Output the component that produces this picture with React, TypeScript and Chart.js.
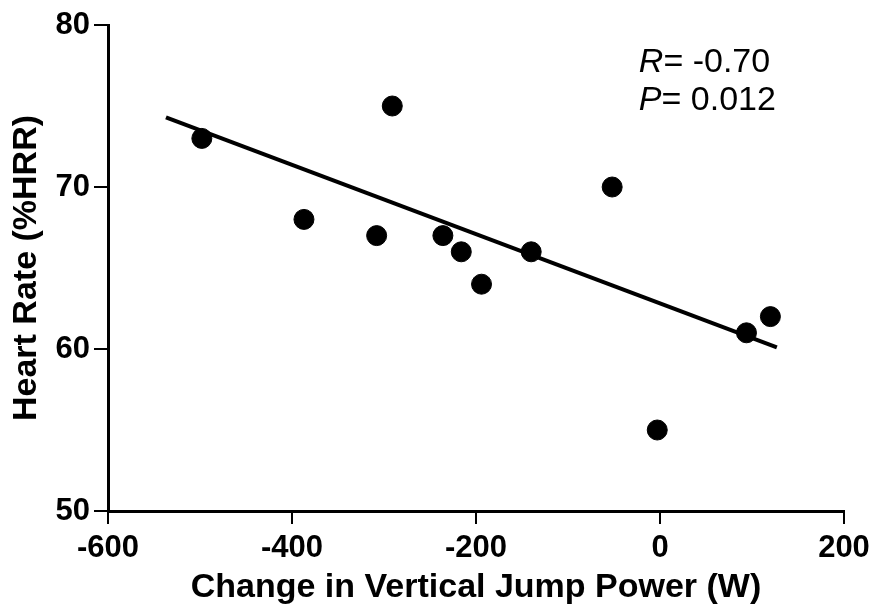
import React, { useEffect, useRef } from "react";
import { Chart, registerables } from "chart.js";

Chart.register(...registerables);

// Measured data points (Change in Vertical Jump Power (W), Heart Rate (%HRR))
const powerChange = [-498, -387, -291, -308, -236, -216, -194, -140, -52, -3, 94, 120];
const heartRate = [73, 68, 75, 67, 67, 66, 64, 66, 70, 55, 61, 62];

// Regression line end points
const fitX = [-537, 127];
const fitY = [74.3, 60.1];

// Axis settings
const xTicks = [-600, -400, -200, 0, 200];
const yTicks = [50, 60, 70, 80];
const xTitle = "Change in Vertical Jump Power (W)";
const yTitle = "Heart Rate (%HRR)";

// Statistics annotation
const statLetters = ["R", "P"];
const statValues = ["= -0.70", "= 0.012"];
const statAnchorX = -23;
const statAnchorY = [77.1, 74.75];

const FONT = '"Liberation Sans", Arial, Helvetica, sans-serif';

const statsPlugin = {
  id: "stats",
  afterDraw(chart: any) {
    const { ctx, scales } = chart;
    ctx.save();
    ctx.fillStyle = "#000";
    ctx.textBaseline = "alphabetic";
    ctx.textAlign = "left";
    statLetters.forEach((letter, i) => {
      const x = scales.x.getPixelForValue(statAnchorX);
      const y = scales.y.getPixelForValue(statAnchorY[i]);
      ctx.font = `italic 34px ${FONT}`;
      ctx.fillText(letter, x, y);
      const w = ctx.measureText(letter).width;
      ctx.font = `34px ${FONT}`;
      ctx.fillText(statValues[i], x + w, y);
    });
    ctx.restore();
  },
};

export default function App() {
  const ref = useRef<HTMLCanvasElement | null>(null);

  useEffect(() => {
    if (!ref.current) return;
    const points = powerChange.map((x, i) => ({ x, y: heartRate[i] }));
    const fit = fitX.map((x, i) => ({ x, y: fitY[i] }));
    const chart = new Chart(ref.current, {
      type: "scatter",
      data: {
        datasets: [
          {
            label: "fit",
            data: fit,
            showLine: true,
            borderColor: "#000",
            borderWidth: 4,
            pointRadius: 0,
            fill: false,
          },
          {
            label: "data",
            data: points,
            backgroundColor: "#000",
            borderColor: "#000",
            pointRadius: 10,
            pointHoverRadius: 10,
          },
        ],
      },
      options: {
        responsive: false,
        animation: false,
        events: [],
        layout: { padding: { left: 0, top: 25, right: 28, bottom: 0 } },
        plugins: {
          legend: { display: false },
          tooltip: { enabled: false },
        },
        scales: {
          x: {
            type: "linear",
            min: -600,
            max: 200,
            afterBuildTicks: (scale: any) => {
              scale.ticks = xTicks.map((v) => ({ value: v }));
            },
            afterFit: (scale: any) => {
              scale.height = 102;
              scale.paddingLeft = 0;
              scale.paddingRight = 0;
            },
            border: { display: true, color: "#000", width: 3 },
            grid: {
              drawOnChartArea: false,
              drawTicks: true,
              tickLength: 13,
              color: "#000",
              lineWidth: 2,
            },
            ticks: {
              color: "#000",
              padding: 6,
              maxRotation: 0,
              font: { family: FONT, size: 31, weight: "bold" },
            },
            title: {
              display: true,
              text: xTitle,
              color: "#000",
              padding: { top: 0, bottom: 5 },
              font: { family: FONT, size: 34, weight: "bold" },
            },
          },
          y: {
            type: "linear",
            min: 50,
            max: 80,
            afterBuildTicks: (scale: any) => {
              scale.ticks = yTicks.map((v) => ({ value: v }));
            },
            afterFit: (scale: any) => {
              scale.width = 108;
              scale.paddingTop = 0;
              scale.paddingBottom = 0;
            },
            border: { display: true, color: "#000", width: 3 },
            grid: {
              drawOnChartArea: false,
              drawTicks: true,
              tickLength: 14,
              color: "#000",
              lineWidth: 2,
            },
            ticks: {
              color: "#000",
              padding: 4,
              font: { family: FONT, size: 31, weight: "bold" },
            },
            title: {
              display: true,
              text: yTitle,
              color: "#000",
              padding: { top: 6, bottom: 0 },
              font: { family: FONT, size: 34, weight: "bold" },
            },
          },
        },
      },
      plugins: [statsPlugin],
    });
    return () => chart.destroy();
  }, []);

  return (
    <div style={{ position: "absolute", left: 0, top: 0, width: 872, height: 613, background: "#fff" }}>
      <canvas ref={ref} width={872} height={613} style={{ display: "block" }} />
    </div>
  );
}
